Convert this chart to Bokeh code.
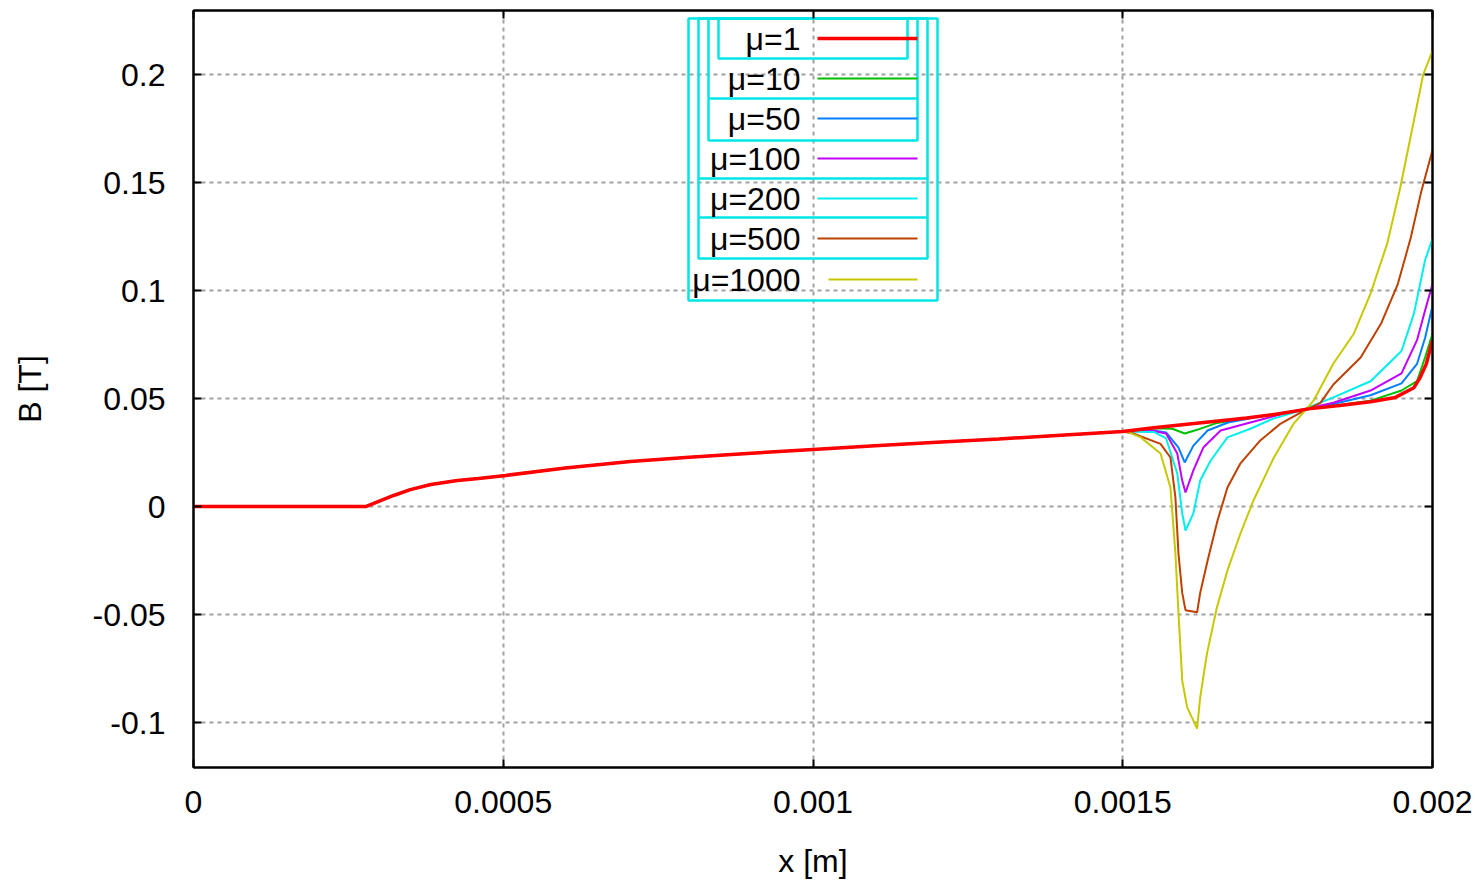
from bokeh.plotting import figure
from bokeh.models import LinearAxis, FixedTicker, Range1d
from bokeh.core.properties import value
from bokeh.embed import file_html
from bokeh.resources import INLINE

# ---------------- data ----------------
x_ticks = [0, 0.0005, 0.001, 0.0015, 0.002]
x_tick_labels = ["0", "0.0005", "0.001", "0.0015", "0.002"]
y_ticks = [-0.1, -0.05, 0, 0.05, 0.1, 0.15, 0.2]
y_tick_labels = ["-0.1", "-0.05", "0", "0.05", "0.1", "0.15", "0.2"]

labels = ["μ=1", "μ=10", "μ=50", "μ=100", "μ=200", "μ=500", "μ=1000"]
colors = ["#ff0000", "#00c000", "#0080ff", "#c000ff", "#00eeee", "#c04000", "#c8c800"]

# shared part of all curves
base_x = [0, 0.000278, 0.000300, 0.000323, 0.000350, 0.000383, 0.000426, 0.000460,
          0.000504, 0.0006, 0.000705, 0.0008, 0.0009, 0.001, 0.0011, 0.0012, 0.0013,
          0.0014, 0.0015]
base_y = [0, 0, 0.0025, 0.0051, 0.0078, 0.0102, 0.012, 0.013, 0.0144, 0.0178, 0.0208,
          0.0228, 0.0247, 0.0264, 0.0281, 0.0297, 0.0313, 0.0330, 0.0347]

mu1_x = [0.00155, 0.0016, 0.00165, 0.0017, 0.00175, 0.0018, 0.00185, 0.0019, 0.00194,
         0.00197, 0.00198, 0.00199, 0.002]
mu1_y = [0.0365, 0.038, 0.0395, 0.041, 0.0428, 0.0452, 0.0468, 0.0485, 0.0505, 0.055,
         0.0597, 0.066, 0.077]

mu10_x = [0.00155, 0.00158, 0.0016, 0.00162, 0.00165, 0.0017, 0.00175, 0.0018, 0.00185,
          0.0019, 0.00195, 0.001975, 0.001988, 0.002]
mu10_y = [0.0362, 0.0360, 0.0338, 0.0355, 0.0385, 0.0410, 0.043, 0.0452, 0.047, 0.049,
          0.0537, 0.058, 0.069, 0.080]

mu50_x = [0.00155, 0.00157, 0.00159, 0.0016, 0.001614, 0.001637, 0.00167, 0.00173, 0.0018,
          0.00184, 0.0019, 0.00195, 0.001975, 0.001988, 0.002]
mu50_y = [0.0352, 0.0343, 0.0273, 0.0204, 0.0282, 0.0352, 0.0389, 0.0421, 0.0452, 0.0475,
          0.0515, 0.057, 0.066, 0.078, 0.093]

mu100_x = [0.00155, 0.00157, 0.001588, 0.001596, 0.0016013, 0.001614, 0.00163, 0.001658,
           0.001706, 0.00176, 0.0018, 0.00184, 0.0019, 0.00195, 0.001975, 0.001988, 0.002]
mu100_y = [0.0350, 0.0338, 0.0245, 0.012, 0.0065, 0.0167, 0.0273, 0.0352, 0.0389, 0.043,
           0.0455, 0.048, 0.0537, 0.0616, 0.077, 0.0907, 0.103]

mu200_x = [0.00155, 0.00157, 0.001588, 0.001596, 0.0016013, 0.001614, 0.001625, 0.001642,
           0.001669, 0.001706, 0.001743, 0.001787, 0.00184, 0.0019, 0.00195, 0.00197,
           0.00198, 0.001988, 0.002]
mu200_y = [0.0345, 0.0315, 0.0153, -0.0032, -0.0111, -0.0032, 0.012, 0.0213, 0.032, 0.036,
           0.0407, 0.0444, 0.0505, 0.058, 0.072, 0.0893, 0.103, 0.114, 0.124]

mu500_x = [0.001517, 0.001561, 0.001577, 0.001585, 0.00159, 0.001596, 0.0016013, 0.00162,
           0.001625, 0.001637, 0.001653, 0.001669, 0.00169, 0.001722, 0.001755, 0.001787,
           0.001819, 0.00184, 0.001884, 0.001917, 0.001944, 0.001965, 0.001982, 0.002]
mu500_y = [0.0338, 0.029, 0.0227, 0.0042, -0.022, -0.040, -0.048, -0.049, -0.040, -0.025,
           -0.0065, 0.0088, 0.020, 0.0306, 0.0384, 0.0435, 0.048, 0.0565, 0.069, 0.0847,
           0.103, 0.1245, 0.146, 0.165]

mu1000_x = [0.00151, 0.001529, 0.001561, 0.001577, 0.001585, 0.00159, 0.001596, 0.001604,
            0.00162, 0.001625, 0.001636, 0.001652, 0.001669, 0.00169, 0.001711, 0.001744,
            0.001776, 0.001808, 0.00184, 0.001873, 0.0019, 0.001927, 0.001948, 0.00197,
            0.001985, 0.002]
mu1000_y = [0.0343, 0.032, 0.0245, 0.0088, -0.0218, -0.0495, -0.0806, -0.093, -0.1028,
            -0.0884, -0.068, -0.0467, -0.0296, -0.0125, 0.0028, 0.0227, 0.0384, 0.049,
            0.0662, 0.080, 0.0986, 0.1218, 0.1477, 0.1787, 0.2, 0.211]

tails_x = [mu1_x, mu10_x, mu50_x, mu100_x, mu200_x, mu500_x, mu1000_x]
tails_y = [mu1_y, mu10_y, mu50_y, mu100_y, mu200_y, mu500_y, mu1000_y]

# ---------------- layout ----------------
W, H = 1475, 883
FL, FR, FT, FB = 193, 1432, 10, 767
X_MIN, X_MAX = 0.0, 0.002
Y_MIN, Y_MAX = -0.12083, 0.22963
FONT = "Liberation Sans"
FS = "32px"


def px_x(px):
    return X_MIN + (px - FL) / (FR - FL) * (X_MAX - X_MIN)


def py_y(py):
    return Y_MAX - (py - FT) / (FB - FT) * (Y_MAX - Y_MIN)


p = figure(width=W, height=H, output_backend="svg", toolbar_location=None,
           x_range=Range1d(X_MIN, X_MAX), y_range=Range1d(Y_MIN, Y_MAX),
           min_border_left=FL, min_border_right=W - FR,
           min_border_top=FT, min_border_bottom=H - FB,
           x_axis_label="x [m]", y_axis_label="B [T]")
p.background_fill_color = "white"
p.border_fill_color = "white"
p.outline_line_color = "black"
p.outline_line_width = 2
p.outline_line_alpha = 1

for ax, ticks, tl in ((p.xaxis[0], x_ticks, x_tick_labels), (p.yaxis[0], y_ticks, y_tick_labels)):
    ax.ticker = FixedTicker(ticks=ticks)
    ax.major_label_overrides = {t: s for t, s in zip(ticks, tl)}
    ax.major_tick_in = 8
    ax.major_tick_out = 0
    ax.minor_tick_in = 0
    ax.minor_tick_out = 0
    ax.major_tick_line_color = "black"
    ax.major_tick_line_width = 2
    ax.axis_line_color = "black"
    ax.axis_line_width = 2
    ax.major_label_text_font = FONT
    ax.major_label_text_font_size = FS
    ax.major_label_text_color = "black"
    ax.axis_label_text_font = FONT
    ax.axis_label_text_font_size = FS
    ax.axis_label_text_font_style = "normal"
    ax.axis_label_text_color = "black"

p.xaxis[0].major_label_standoff = 23
p.xaxis[0].axis_label_standoff = 27
p.yaxis[0].major_label_standoff = 28
p.yaxis[0].axis_label_standoff = 42

for loc, ticks in (("right", y_ticks), ("above", x_ticks)):
    ax = LinearAxis(ticker=FixedTicker(ticks=ticks), major_label_text_font_size="0px",
                    major_label_text_color=None, major_label_standoff=0,
                    major_tick_in=8, major_tick_out=0, minor_tick_in=0, minor_tick_out=0,
                    major_tick_line_color="black", major_tick_line_width=2,
                    axis_line_color="black", axis_line_width=2)
    p.add_layout(ax, loc)

for g in (p.xgrid[0], p.ygrid[0]):
    g.grid_line_color = "#a0a0a0"
    g.grid_line_dash = "4 4"
    g.grid_line_width = 2

# ---------------- curves ----------------
order = [1, 2, 3, 4, 5, 6, 0]
for i in order:
    xs = base_x + tails_x[i]
    ys = base_y + tails_y[i]
    p.line(xs, ys, line_color=colors[i], line_width=3.5 if i == 0 else 2)

# ---------------- legend (gnuplot style) ----------------
CYAN = "#00e5e5"
boxes = [(688, 937, 18, 300), (698, 927, 18, 258), (708, 917, 18, 140), (718, 907, 18, 58)]
p.quad(left=[px_x(b[0]) for b in boxes], right=[px_x(b[1]) for b in boxes],
       top=[py_y(b[2]) for b in boxes], bottom=[py_y(b[3]) for b in boxes],
       fill_color=None, line_color=CYAN, line_width=2.5)
hlines = [(708, 917, 98), (698, 927, 178), (698, 927, 217)]
p.segment(x0=[px_x(h[0]) for h in hlines], x1=[px_x(h[1]) for h in hlines],
          y0=[py_y(h[2]) for h in hlines], y1=[py_y(h[2]) for h in hlines],
          line_color=CYAN, line_width=2.5)

row_centers = [38, 78, 118, 158, 198, 238, 279]
p.text(x=[px_x(800)] * 7, y=[py_y(c) for c in row_centers], text=labels,
       text_align="right", text_baseline="middle", text_font=value(FONT),
       text_font_size=FS, text_color="black")
p.segment(x0=[px_x(817)] * 6 + [px_x(828)], x1=[px_x(917)] * 7,
          y0=[py_y(c) for c in row_centers], y1=[py_y(c) for c in row_centers],
          line_color=colors, line_width=[3.5, 2, 2, 2, 2, 2, 2])

open("out.html", "w").write(file_html(p, INLINE))
